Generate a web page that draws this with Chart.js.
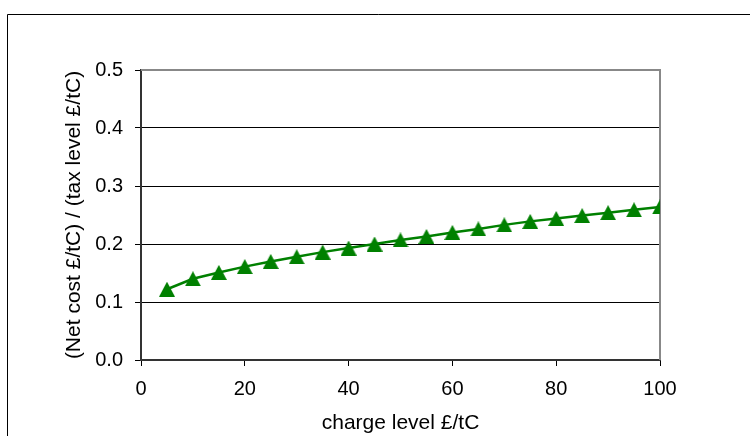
<!DOCTYPE html>
<html lang="en">
<head>
  <meta charset="UTF-8">
  <title>Net cost ratio</title>
  <style>
    body { margin: 0; background: #fff; }
  </style>
</head>
<body>
  <canvas id="costChart" width="750" height="436"></canvas>
  <script src="https://cdn.jsdelivr.net/npm/chart.js"></script>
  <script>
    // charge level (£/tC) and net cost / tax level
    const chargeLevels = [5, 10, 15, 20, 25, 30, 35, 40, 45, 50, 55, 60, 65, 70, 75, 80, 85, 90, 95, 100]
    const costRatio = [0.122, 0.140, 0.151, 0.161, 0.170, 0.178, 0.186, 0.193, 0.200, 0.207,
                       0.213, 0.220, 0.226, 0.233, 0.239, 0.244, 0.249, 0.254, 0.259, 0.264]
    const xTicks = [0, 20, 40, 60, 80, 100]
    const yTicks = [0.0, 0.1, 0.2, 0.3, 0.4, 0.5]
    const xTitle = 'charge level £/tC'
    const yTitle = '(Net cost £/tC) / (tax level £/tC)'

    const green = '#008000'

    // Excel-style triangle marker, box centred on the point
    function triangleMarker() {
        const c = document.createElement('canvas')
        c.width = 16
        c.height = 15
        const g = c.getContext('2d')
        g.fillStyle = green
        g.beginPath()
        g.moveTo(0, 15)
        g.lineTo(8, 0)
        g.lineTo(16, 15)
        g.closePath()
        g.fill()
        return c
    }

    // grey frame on top/right of the plot, plus the outer chart border
    const frames = {
        id: 'frames',
        beforeDatasetsDraw(chart) {
            const { ctx, chartArea: a } = chart
            ctx.save()
            ctx.strokeStyle = '#888'
            ctx.lineWidth = 2
            ctx.beginPath()
            ctx.moveTo(a.left, a.top)
            ctx.lineTo(a.right, a.top)
            ctx.lineTo(a.right, a.bottom)
            ctx.stroke()
            ctx.restore()
        },
        afterDraw(chart) {
            const ctx = chart.ctx
            ctx.save()
            ctx.strokeStyle = '#000'
            ctx.lineWidth = 1
            ctx.beginPath()
            ctx.moveTo(7.5, chart.height)
            ctx.lineTo(7.5, 14.5)
            ctx.lineTo(chart.width, 14.5)
            ctx.stroke()
            ctx.restore()
        }
    }

    Chart.defaults.font.family = '"Liberation Sans", Arial, sans-serif'
    Chart.defaults.font.size = 20
    Chart.defaults.color = '#000'

    const ctx = document.getElementById('costChart')

    new Chart(ctx, {
        type: 'line',
        data: {
            datasets: [{
                label: 'ratio',
                data: chargeLevels.map((x, i) => ({ x: x, y: costRatio[i] })),
                borderColor: green,
                backgroundColor: green,
                borderWidth: 2.5,
                pointStyle: triangleMarker(),
                tension: 0,
                fill: false
            }]
        },
        options: {
            responsive: false,
            animation: false,
            layout: { padding: { top: 70, right: 90, bottom: 0, left: 0 } },
            plugins: {
                legend: { display: false },
                tooltip: { enabled: false }
            },
            scales: {
                x: {
                    type: 'linear',
                    min: xTicks[0],
                    max: xTicks[xTicks.length - 1],
                    afterBuildTicks: s => { s.ticks = xTicks.map(v => ({ value: v })) },
                    afterFit: s => { s.height = 76 },
                    ticks: { padding: 11 },
                    grid: { drawOnChartArea: false, color: '#000', tickLength: 6 },
                    border: { color: '#333', width: 2 },
                    title: { display: true, text: xTitle, font: { size: 21 }, padding: { top: 0, bottom: 0 } }
                },
                y: {
                    min: yTicks[0],
                    max: yTicks[yTicks.length - 1],
                    afterBuildTicks: s => { s.ticks = yTicks.map(v => ({ value: v })) },
                    afterFit: s => { s.width = 141 },
                    ticks: { padding: 12, callback: v => v.toFixed(1) },
                    grid: { color: '#000', tickLength: 6 },
                    border: { color: '#333', width: 2 },
                    title: { display: true, text: yTitle, font: { size: 21 }, padding: { top: 62, bottom: 0 } }
                }
            }
        },
        plugins: [frames]
    })
  </script>
</body>
</html>
